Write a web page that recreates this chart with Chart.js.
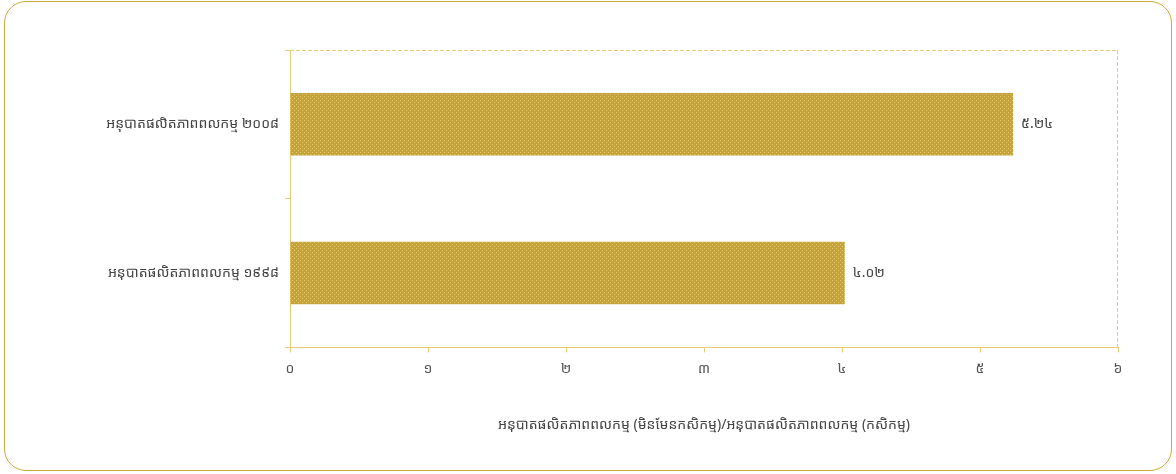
<!DOCTYPE html>
<html>
<head>
<meta charset="utf-8">
<script src="https://cdn.jsdelivr.net/npm/chart.js@4.4.1/dist/chart.umd.min.js"></script>
<style>
  html, body { margin: 0; padding: 0; background: #fff; }
  #wrap {
    position: relative;
    width: 1168px;
    height: 470px;
    margin: 1px 0 0 4px;
    border: 1.5px solid #c9aa3c;
    border-radius: 22px;
    box-sizing: border-box;
  }
  #c { position: absolute; left: -4px; top: -1px; }
</style>
</head>
<body>
<div id="wrap"><canvas id="c" width="1176" height="474"></canvas></div>
<script>
"use strict";

const categories = ["អនុបាតផលិតភាពពលកម្ម ២០០៨", "អនុបាតផលិតភាពពលកម្ម ១៩៩៨"];
const values = [5.24, 4.02];
const valueLabels = ["៥.២៤", "៤.០២"];
const xTickLabels = ["០", "១", "២", "៣", "៤", "៥", "៦"];
const xTitle = "អនុបាតផលិតភាពពលកម្ម (មិនមែនកសិកម្ម)/អនុបាតផលិតភាពពលកម្ម (កសិកម្ម)";

const font = "'Noto Sans Khmer', 'Khmer OS', 'DejaVu Sans', 'Noto Sans', sans-serif";
const gold = "#e6cc78";

// dotted gold fill like the original
function makePattern() {
  const p = document.createElement("canvas");
  p.width = 4;
  p.height = 4;
  const g = p.getContext("2d");
  g.fillStyle = "#c6a23c";
  g.fillRect(0, 0, 4, 4);
  g.fillStyle = "#e2cc6a";
  g.fillRect(1, 1, 1, 1);
  g.fillRect(3, 3, 1, 1);
  return g.createPattern(p, "repeat");
}

const frame = {
  id: "frame",
  beforeDatasetsDraw(chart) {
    const { ctx, chartArea: a } = chart;
    ctx.save();
    ctx.strokeStyle = gold;
    ctx.lineWidth = 1;
    ctx.setLineDash([4, 2]);
    ctx.beginPath();
    ctx.moveTo(a.left, a.top + 0.5);
    ctx.lineTo(a.right, a.top + 0.5);
    ctx.moveTo(a.right - 0.5, a.top);
    ctx.lineTo(a.right - 0.5, a.bottom);
    ctx.stroke();
    ctx.restore();
  },
};

const barLabels = {
  id: "barLabels",
  afterDatasetsDraw(chart) {
    const { ctx } = chart;
    const meta = chart.getDatasetMeta(0);
    ctx.save();
    ctx.font = "14px " + font;
    ctx.fillStyle = "#444";
    ctx.textBaseline = "middle";
    meta.data.forEach((bar, i) => {
      ctx.fillText(valueLabels[i], bar.x + 8, bar.y);
    });
    ctx.restore();
  },
};

new Chart(document.getElementById("c"), {
  type: "bar",
  data: {
    labels: categories,
    datasets: [
      {
        data: values,
        backgroundColor: makePattern(),
        borderWidth: 0,
        barPercentage: 0.7,
        categoryPercentage: 0.6,
      },
    ],
  },
  options: {
    indexAxis: "y",
    responsive: false,
    animation: false,
    layout: { padding: { top: 49, right: 59, left: 10, bottom: 38 } },
    plugins: {
      legend: { display: false },
      tooltip: { enabled: false },
    },
    scales: {
      x: {
        min: 0,
        max: 6,
        ticks: {
          stepSize: 1,
          color: "#555",
          font: { size: 14, family: font },
          padding: 8,
          callback: (v) => xTickLabels[v],
        },
        grid: { drawOnChartArea: false, tickLength: 5, color: gold },
        border: { color: gold, dash: [4, 2] },
        title: {
          display: true,
          text: xTitle,
          color: "#444",
          font: { size: 14, family: font },
          padding: { top: 31 },
        },
      },
      y: {
        afterFit: (s) => { s.width = 279; },
        ticks: {
          color: "#444",
          font: { size: 14, family: font },
          padding: 6,
        },
        grid: { offset: true, drawOnChartArea: false, tickLength: 5, color: gold },
        border: { color: gold },
      },
    },
  },
  plugins: [frame, barLabels],
});
</script>
</body>
</html>
